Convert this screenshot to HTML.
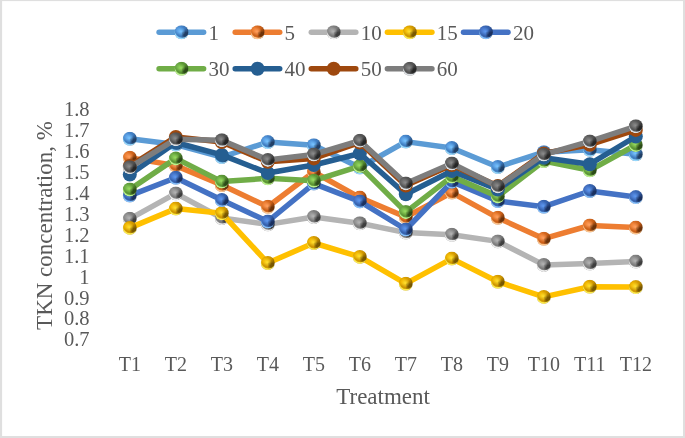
<!DOCTYPE html>
<html><head><meta charset="utf-8"><title>TKN concentration chart</title>
<style>
html,body{margin:0;padding:0;background:#ffffff;}
body{width:685px;height:438px;overflow:hidden;font-family:"Liberation Serif",serif;}
#c{position:relative;width:685px;height:438px;overflow:hidden;will-change:transform;}
.L{position:absolute;left:0;top:0;display:block;}
.m{position:absolute;left:0;top:0;width:14.0px;height:14.0px;border-radius:50%;}
.s1{background:radial-gradient(circle at 46% 44%,#78c4ff 0,#78c4ff00 42%),radial-gradient(circle at 50% 46%,#00000000 50%,#00000052 100%),conic-gradient(from 0deg,#4585cc 0deg,#3f7cc0 40deg,#213f66 95deg,#213f66 140deg,#3f7cc0 185deg,#3f7cc0 235deg,#569ae0 290deg,#569ae0 320deg,#4585cc 360deg);box-shadow:inset 0.6px -2.1px 0.7px -0.5px #98dcff;}
.s5{background:radial-gradient(circle at 46% 44%,#ffa060 0,#ffa06000 42%),radial-gradient(circle at 50% 46%,#00000000 50%,#00000052 100%),conic-gradient(from 0deg,#d86a20 0deg,#cc6018 40deg,#6e3208 95deg,#6e3208 140deg,#cc6018 185deg,#cc6018 235deg,#ef7f32 290deg,#ef7f32 320deg,#d86a20 360deg);box-shadow:inset 0.6px -2.1px 0.7px -0.5px #ffc890;}
.s10{background:radial-gradient(circle at 46% 44%,#b4b4b4 0,#b4b4b400 42%),radial-gradient(circle at 50% 46%,#00000000 50%,#00000052 100%),conic-gradient(from 0deg,#808080 0deg,#7a7a7a 40deg,#3e3e3e 95deg,#3e3e3e 140deg,#7a7a7a 185deg,#7a7a7a 235deg,#929292 290deg,#929292 320deg,#808080 360deg);box-shadow:inset 0.6px -2.1px 0.7px -0.5px #f4f4f4;}
.s15{background:radial-gradient(circle at 46% 44%,#ffe030 0,#ffe03000 42%),radial-gradient(circle at 50% 46%,#00000000 50%,#00000052 100%),conic-gradient(from 0deg,#dca000 0deg,#cf9600 40deg,#7a5800 95deg,#7a5800 140deg,#cf9600 185deg,#cf9600 235deg,#f2b600 290deg,#f2b600 320deg,#dca000 360deg);box-shadow:inset 0.6px -2.1px 0.7px -0.5px #fff050;}
.s20{background:radial-gradient(circle at 46% 44%,#5e98f0 0,#5e98f000 42%),radial-gradient(circle at 50% 46%,#00000000 50%,#00000052 100%),conic-gradient(from 0deg,#3866b4 0deg,#3560ac 40deg,#1a3060 95deg,#1a3060 140deg,#3560ac 185deg,#3560ac 235deg,#4674c8 290deg,#4674c8 320deg,#3866b4 360deg);box-shadow:inset 0.6px -2.1px 0.7px -0.5px #88c4ff;}
.s30{background:radial-gradient(circle at 46% 44%,#98dc60 0,#98dc6000 42%),radial-gradient(circle at 50% 46%,#00000000 50%,#00000052 100%),conic-gradient(from 0deg,#5e9a38 0deg,#5a9434 40deg,#2c4c18 95deg,#2c4c18 140deg,#5a9434 185deg,#5a9434 235deg,#70b048 290deg,#70b048 320deg,#5e9a38 360deg);box-shadow:inset 0.6px -2.1px 0.7px -0.5px #c0f890;}
.s60{background:radial-gradient(circle at 46% 44%,#8c8c8c 0,#8c8c8c00 42%),radial-gradient(circle at 50% 46%,#00000000 50%,#00000052 100%),conic-gradient(from 0deg,#565656 0deg,#525252 40deg,#262626 95deg,#262626 140deg,#525252 185deg,#525252 235deg,#666666 290deg,#666666 320deg,#565656 360deg);box-shadow:inset 0.6px -2.1px 0.7px -0.5px #e4e8ec;}
</style></head><body>
<div id="c">
<svg class="L" width="685" height="438" viewBox="0 0 685 438"><rect x="0" y="0" width="685" height="438" fill="#dfdfdf"/><rect x="2.1" y="1.1" width="680.9" height="434.9" fill="#ffffff"/><g font-family="Liberation Serif, serif" fill="#595959"><text x="89.5" y="346.47" font-size="20.5" text-anchor="end">0.7</text><text x="89.5" y="325.49" font-size="20.5" text-anchor="end">0.8</text><text x="89.5" y="304.51" font-size="20.5" text-anchor="end">0.9</text><text x="89.5" y="283.53" font-size="20.5" text-anchor="end">1</text><text x="89.5" y="262.55" font-size="20.5" text-anchor="end">1.1</text><text x="89.5" y="241.57" font-size="20.5" text-anchor="end">1.2</text><text x="89.5" y="220.59" font-size="20.5" text-anchor="end">1.3</text><text x="89.5" y="199.61" font-size="20.5" text-anchor="end">1.4</text><text x="89.5" y="178.63" font-size="20.5" text-anchor="end">1.5</text><text x="89.5" y="157.65" font-size="20.5" text-anchor="end">1.6</text><text x="89.5" y="136.67" font-size="20.5" text-anchor="end">1.7</text><text x="89.5" y="115.69" font-size="20.5" text-anchor="end">1.8</text><text x="129.80" y="371.1" font-size="20" text-anchor="middle">T1</text><text x="175.80" y="371.1" font-size="20" text-anchor="middle">T2</text><text x="221.80" y="371.1" font-size="20" text-anchor="middle">T3</text><text x="267.80" y="371.1" font-size="20" text-anchor="middle">T4</text><text x="313.80" y="371.1" font-size="20" text-anchor="middle">T5</text><text x="359.80" y="371.1" font-size="20" text-anchor="middle">T6</text><text x="405.80" y="371.1" font-size="20" text-anchor="middle">T7</text><text x="451.80" y="371.1" font-size="20" text-anchor="middle">T8</text><text x="497.80" y="371.1" font-size="20" text-anchor="middle">T9</text><text x="543.80" y="371.1" font-size="20" text-anchor="middle">T10</text><text x="589.80" y="371.1" font-size="20" text-anchor="middle">T11</text><text x="635.80" y="371.1" font-size="20" text-anchor="middle">T12</text><text x="383.1" y="404.2" font-size="23" text-anchor="middle">Treatment</text><text transform="translate(51.7,225.5) rotate(-90)" x="0" y="0" font-size="23" text-anchor="middle">TKN concentration, %</text><text x="208.50" y="39.85" font-size="21">1</text><text x="284.60" y="39.85" font-size="21">5</text><text x="360.70" y="39.85" font-size="21">10</text><text x="436.80" y="39.85" font-size="21">15</text><text x="512.90" y="39.85" font-size="21">20</text><text x="208.50" y="76.25" font-size="21">30</text><text x="284.60" y="76.25" font-size="21">40</text><text x="360.70" y="76.25" font-size="21">50</text><text x="436.80" y="76.25" font-size="21">60</text></g></svg><svg class="L" width="685" height="438" viewBox="0 0 685 438"><line x1="159.10" y1="32.3" x2="203.60" y2="32.3" stroke="#5B9BD5" stroke-width="5.5" stroke-linecap="round"/></svg><div class="m s1" style="transform:translate(174.50px,25.30px)"></div><svg class="L" width="685" height="438" viewBox="0 0 685 438"><line x1="235.20" y1="32.3" x2="279.70" y2="32.3" stroke="#ED7D31" stroke-width="5.5" stroke-linecap="round"/></svg><div class="m s5" style="transform:translate(250.60px,25.30px)"></div><svg class="L" width="685" height="438" viewBox="0 0 685 438"><line x1="311.30" y1="32.3" x2="355.80" y2="32.3" stroke="#b4b4b4" stroke-width="5.5" stroke-linecap="round"/></svg><div class="m s10" style="transform:translate(326.70px,25.30px)"></div><svg class="L" width="685" height="438" viewBox="0 0 685 438"><line x1="387.40" y1="32.3" x2="431.90" y2="32.3" stroke="#FFC000" stroke-width="5.5" stroke-linecap="round"/></svg><div class="m s15" style="transform:translate(402.80px,25.30px)"></div><svg class="L" width="685" height="438" viewBox="0 0 685 438"><line x1="463.50" y1="32.3" x2="508.00" y2="32.3" stroke="#4472C4" stroke-width="5.5" stroke-linecap="round"/></svg><div class="m s20" style="transform:translate(478.90px,25.30px)"></div><svg class="L" width="685" height="438" viewBox="0 0 685 438"><line x1="159.10" y1="68.7" x2="203.60" y2="68.7" stroke="#70AD47" stroke-width="5.5" stroke-linecap="round"/></svg><div class="m s30" style="transform:translate(174.50px,61.70px)"></div><svg class="L" width="685" height="438" viewBox="0 0 685 438"><line x1="235.20" y1="68.7" x2="279.70" y2="68.7" stroke="#255E91" stroke-width="5.5" stroke-linecap="round"/></svg><div class="m" style="transform:translate(250.60px,61.70px);background:#255E91"></div><svg class="L" width="685" height="438" viewBox="0 0 685 438"><line x1="311.30" y1="68.7" x2="355.80" y2="68.7" stroke="#9E480E" stroke-width="5.5" stroke-linecap="round"/></svg><div class="m" style="transform:translate(326.70px,61.70px);background:#9E480E"></div><svg class="L" width="685" height="438" viewBox="0 0 685 438"><line x1="387.40" y1="68.7" x2="431.90" y2="68.7" stroke="#7d7d7d" stroke-width="5.5" stroke-linecap="round"/></svg><div class="m s60" style="transform:translate(402.80px,61.70px)"></div><svg class="L" width="685" height="438" viewBox="0 0 685 438"><polyline points="129.80,138.80 175.80,144.50 221.80,157.00 267.80,142.10 313.80,145.30 359.80,167.50 405.80,141.60 451.80,148.00 497.80,167.00 543.80,152.20 589.80,149.80 635.80,154.20" fill="none" stroke="#5B9BD5" stroke-width="5.5" stroke-linecap="round" stroke-linejoin="round"/></svg><div class="m s1" style="transform:translate(122.80px,131.80px)"></div><div class="m s1" style="transform:translate(168.80px,137.50px)"></div><div class="m s1" style="transform:translate(214.80px,150.00px)"></div><div class="m s1" style="transform:translate(260.80px,135.10px)"></div><div class="m s1" style="transform:translate(306.80px,138.30px)"></div><div class="m s1" style="transform:translate(352.80px,160.50px)"></div><div class="m s1" style="transform:translate(398.80px,134.60px)"></div><div class="m s1" style="transform:translate(444.80px,141.00px)"></div><div class="m s1" style="transform:translate(490.80px,160.00px)"></div><div class="m s1" style="transform:translate(536.80px,145.20px)"></div><div class="m s1" style="transform:translate(582.80px,142.80px)"></div><div class="m s1" style="transform:translate(628.80px,147.20px)"></div><svg class="L" width="685" height="438" viewBox="0 0 685 438"><polyline points="129.80,157.70 175.80,165.60 221.80,185.00 267.80,206.80 313.80,172.00 359.80,197.60 405.80,217.00 451.80,192.60 497.80,217.80 543.80,238.70 589.80,225.50 635.80,227.60" fill="none" stroke="#ED7D31" stroke-width="5.5" stroke-linecap="round" stroke-linejoin="round"/></svg><div class="m s5" style="transform:translate(122.80px,150.70px)"></div><div class="m s5" style="transform:translate(168.80px,158.60px)"></div><div class="m s5" style="transform:translate(214.80px,178.00px)"></div><div class="m s5" style="transform:translate(260.80px,199.80px)"></div><div class="m s5" style="transform:translate(306.80px,165.00px)"></div><div class="m s5" style="transform:translate(352.80px,190.60px)"></div><div class="m s5" style="transform:translate(398.80px,210.00px)"></div><div class="m s5" style="transform:translate(444.80px,185.60px)"></div><div class="m s5" style="transform:translate(490.80px,210.80px)"></div><div class="m s5" style="transform:translate(536.80px,231.70px)"></div><div class="m s5" style="transform:translate(582.80px,218.50px)"></div><div class="m s5" style="transform:translate(628.80px,220.60px)"></div><svg class="L" width="685" height="438" viewBox="0 0 685 438"><polyline points="129.80,218.80 175.80,193.40 221.80,218.00 267.80,224.40 313.80,217.00 359.80,223.30 405.80,232.60 451.80,234.70 497.80,241.40 543.80,264.90 589.80,263.60 635.80,261.60" fill="none" stroke="#b4b4b4" stroke-width="5.5" stroke-linecap="round" stroke-linejoin="round"/></svg><div class="m s10" style="transform:translate(122.80px,211.80px)"></div><div class="m s10" style="transform:translate(168.80px,186.40px)"></div><div class="m s10" style="transform:translate(214.80px,211.00px)"></div><div class="m s10" style="transform:translate(260.80px,217.40px)"></div><div class="m s10" style="transform:translate(306.80px,210.00px)"></div><div class="m s10" style="transform:translate(352.80px,216.30px)"></div><div class="m s10" style="transform:translate(398.80px,225.60px)"></div><div class="m s10" style="transform:translate(444.80px,227.70px)"></div><div class="m s10" style="transform:translate(490.80px,234.40px)"></div><div class="m s10" style="transform:translate(536.80px,257.90px)"></div><div class="m s10" style="transform:translate(582.80px,256.60px)"></div><div class="m s10" style="transform:translate(628.80px,254.60px)"></div><svg class="L" width="685" height="438" viewBox="0 0 685 438"><polyline points="129.80,227.90 175.80,208.60 221.80,213.30 267.80,263.00 313.80,243.00 359.80,256.90 405.80,283.70 451.80,258.60 497.80,281.70 543.80,296.90 589.80,286.70 635.80,287.10" fill="none" stroke="#FFC000" stroke-width="5.5" stroke-linecap="round" stroke-linejoin="round"/></svg><div class="m s15" style="transform:translate(122.80px,220.90px)"></div><div class="m s15" style="transform:translate(168.80px,201.60px)"></div><div class="m s15" style="transform:translate(214.80px,206.30px)"></div><div class="m s15" style="transform:translate(260.80px,256.00px)"></div><div class="m s15" style="transform:translate(306.80px,236.00px)"></div><div class="m s15" style="transform:translate(352.80px,249.90px)"></div><div class="m s15" style="transform:translate(398.80px,276.70px)"></div><div class="m s15" style="transform:translate(444.80px,251.60px)"></div><div class="m s15" style="transform:translate(490.80px,274.70px)"></div><div class="m s15" style="transform:translate(536.80px,289.90px)"></div><div class="m s15" style="transform:translate(582.80px,279.70px)"></div><div class="m s15" style="transform:translate(628.80px,280.10px)"></div><svg class="L" width="685" height="438" viewBox="0 0 685 438"><polyline points="129.80,195.60 175.80,177.80 221.80,200.00 267.80,221.50 313.80,183.60 359.80,201.40 405.80,229.50 451.80,181.80 497.80,201.00 543.80,206.70 589.80,191.00 635.80,197.10" fill="none" stroke="#4472C4" stroke-width="5.5" stroke-linecap="round" stroke-linejoin="round"/></svg><div class="m s20" style="transform:translate(122.80px,188.60px)"></div><div class="m s20" style="transform:translate(168.80px,170.80px)"></div><div class="m s20" style="transform:translate(214.80px,193.00px)"></div><div class="m s20" style="transform:translate(260.80px,214.50px)"></div><div class="m s20" style="transform:translate(306.80px,176.60px)"></div><div class="m s20" style="transform:translate(352.80px,194.40px)"></div><div class="m s20" style="transform:translate(398.80px,222.50px)"></div><div class="m s20" style="transform:translate(444.80px,174.80px)"></div><div class="m s20" style="transform:translate(490.80px,194.00px)"></div><div class="m s20" style="transform:translate(536.80px,199.70px)"></div><div class="m s20" style="transform:translate(582.80px,184.00px)"></div><div class="m s20" style="transform:translate(628.80px,190.10px)"></div><svg class="L" width="685" height="438" viewBox="0 0 685 438"><polyline points="129.80,189.50 175.80,158.40 221.80,181.60 267.80,178.30 313.80,180.70 359.80,166.10 405.80,212.10 451.80,176.60 497.80,196.40 543.80,161.00 589.80,170.30 635.80,145.00" fill="none" stroke="#70AD47" stroke-width="5.5" stroke-linecap="round" stroke-linejoin="round"/></svg><div class="m s30" style="transform:translate(122.80px,182.50px)"></div><div class="m s30" style="transform:translate(168.80px,151.40px)"></div><div class="m s30" style="transform:translate(214.80px,174.60px)"></div><div class="m s30" style="transform:translate(260.80px,171.30px)"></div><div class="m s30" style="transform:translate(306.80px,173.70px)"></div><div class="m s30" style="transform:translate(352.80px,159.10px)"></div><div class="m s30" style="transform:translate(398.80px,205.10px)"></div><div class="m s30" style="transform:translate(444.80px,169.60px)"></div><div class="m s30" style="transform:translate(490.80px,189.40px)"></div><div class="m s30" style="transform:translate(536.80px,154.00px)"></div><div class="m s30" style="transform:translate(582.80px,163.30px)"></div><div class="m s30" style="transform:translate(628.80px,138.00px)"></div><svg class="L" width="685" height="438" viewBox="0 0 685 438"><polyline points="129.80,174.60 175.80,142.50 221.80,154.90 267.80,173.00 313.80,165.00 359.80,153.50 405.80,194.30 451.80,171.00 497.80,189.50 543.80,157.80 589.80,164.20 635.80,136.50" fill="none" stroke="#255E91" stroke-width="5.5" stroke-linecap="round" stroke-linejoin="round"/></svg><div class="m" style="transform:translate(122.80px,167.60px);background:#255E91"></div><div class="m" style="transform:translate(168.80px,135.50px);background:#255E91"></div><div class="m" style="transform:translate(214.80px,147.90px);background:#255E91"></div><div class="m" style="transform:translate(260.80px,166.00px);background:#255E91"></div><div class="m" style="transform:translate(306.80px,158.00px);background:#255E91"></div><div class="m" style="transform:translate(352.80px,146.50px);background:#255E91"></div><div class="m" style="transform:translate(398.80px,187.30px);background:#255E91"></div><div class="m" style="transform:translate(444.80px,164.00px);background:#255E91"></div><div class="m" style="transform:translate(490.80px,182.50px);background:#255E91"></div><div class="m" style="transform:translate(536.80px,150.80px);background:#255E91"></div><div class="m" style="transform:translate(582.80px,157.20px);background:#255E91"></div><div class="m" style="transform:translate(628.80px,129.50px);background:#255E91"></div><svg class="L" width="685" height="438" viewBox="0 0 685 438"><polyline points="129.80,166.00 175.80,136.90 221.80,142.00 267.80,161.80 313.80,158.40 359.80,142.50 405.80,185.50 451.80,165.00 497.80,186.00 543.80,153.40 589.80,144.70 635.80,129.90" fill="none" stroke="#9E480E" stroke-width="5.5" stroke-linecap="round" stroke-linejoin="round"/></svg><div class="m" style="transform:translate(122.80px,159.00px);background:#9E480E"></div><div class="m" style="transform:translate(168.80px,129.90px);background:#9E480E"></div><div class="m" style="transform:translate(214.80px,135.00px);background:#9E480E"></div><div class="m" style="transform:translate(260.80px,154.80px);background:#9E480E"></div><div class="m" style="transform:translate(306.80px,151.40px);background:#9E480E"></div><div class="m" style="transform:translate(352.80px,135.50px);background:#9E480E"></div><div class="m" style="transform:translate(398.80px,178.50px);background:#9E480E"></div><div class="m" style="transform:translate(444.80px,158.00px);background:#9E480E"></div><div class="m" style="transform:translate(490.80px,179.00px);background:#9E480E"></div><div class="m" style="transform:translate(536.80px,146.40px);background:#9E480E"></div><div class="m" style="transform:translate(582.80px,137.70px);background:#9E480E"></div><div class="m" style="transform:translate(628.80px,122.90px);background:#9E480E"></div><svg class="L" width="685" height="438" viewBox="0 0 685 438"><polyline points="129.80,167.30 175.80,139.20 221.80,140.20 267.80,159.90 313.80,154.50 359.80,140.75 405.80,183.40 451.80,163.50 497.80,186.40 543.80,154.60 589.80,141.40 635.80,126.30" fill="none" stroke="#7d7d7d" stroke-width="5.5" stroke-linecap="round" stroke-linejoin="round"/></svg><div class="m s60" style="transform:translate(122.80px,160.30px)"></div><div class="m s60" style="transform:translate(168.80px,132.20px)"></div><div class="m s60" style="transform:translate(214.80px,133.20px)"></div><div class="m s60" style="transform:translate(260.80px,152.90px)"></div><div class="m s60" style="transform:translate(306.80px,147.50px)"></div><div class="m s60" style="transform:translate(352.80px,133.75px)"></div><div class="m s60" style="transform:translate(398.80px,176.40px)"></div><div class="m s60" style="transform:translate(444.80px,156.50px)"></div><div class="m s60" style="transform:translate(490.80px,179.40px)"></div><div class="m s60" style="transform:translate(536.80px,147.60px)"></div><div class="m s60" style="transform:translate(582.80px,134.40px)"></div><div class="m s60" style="transform:translate(628.80px,119.30px)"></div>
</div>
</body></html>
